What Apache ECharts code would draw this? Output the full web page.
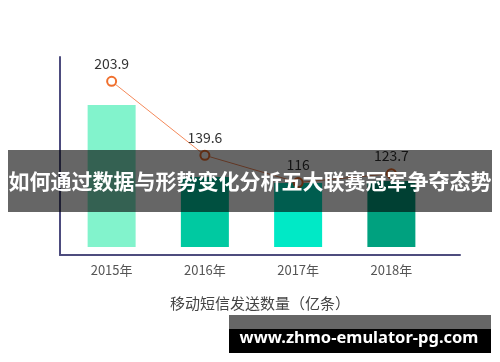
<!DOCTYPE html>
<html><head><meta charset="utf-8">
<script src="https://cdn.jsdelivr.net/npm/echarts@6/dist/echarts.min.js"></script>
<style>html,body{margin:0;padding:0;background:#fff}#c{width:500px;height:362px}</style>
</head><body><div id="c"></div>
<script>
const categories = ['2015年', '2016年', '2017年', '2018年'];
const barValues = [74.7, 36.8, 33.7, 34.7];
const lineValues = [203.9, 139.6, 116, 123.7];
const barColors = ['#82f3cc', '#00c9a1', '#00e9c6', '#00a17f'];
const axisTitle = '移动短信发送数量（亿条）';
const bannerText = '如何通过数据与形势变化分析五大联赛冠军争夺态势';
const watermarkText = 'www.zhmo-emulator-pg.com';

const chart = echarts.init(document.getElementById('c'), null, {renderer: 'canvas'});
const axisColor = '#4d4c7e';
chart.setOption({
  animation: false,
  grid: [
    {left: 65, width: 373, top: 57, height: 190},
    {left: 60, width: 400, top: 57, height: 198}
  ],
  xAxis: [
    {type: 'category', gridIndex: 0, data: categories,
     axisLine: {show: false}, axisTick: {show: false},
     axisLabel: {margin: 17, fontSize: 13, color: '#555', fontFamily: 'Noto Sans CJK SC'}},
    {type: 'value', gridIndex: 1, position: 'bottom',
     axisLine: {show: true, lineStyle: {color: axisColor, width: 2}},
     axisTick: {show: false}, axisLabel: {show: false}, splitLine: {show: false},
     name: axisTitle, nameLocation: 'middle', nameGap: 41,
     nameTextStyle: {fontSize: 15, color: '#444', fontFamily: 'Noto Sans CJK SC'}}
  ],
  yAxis: [
    {type: 'value', gridIndex: 0, min: 0, max: 100, show: false},
    {type: 'value', gridIndex: 0, min: 60, max: 225, show: false},
    {type: 'value', gridIndex: 1, position: 'left',
     axisLine: {show: true, onZero: false, lineStyle: {color: axisColor, width: 2}},
     axisTick: {show: false}, axisLabel: {show: false}, splitLine: {show: false}}
  ],
  series: [
    {type: 'bar', xAxisIndex: 0, yAxisIndex: 0, barWidth: 48,
     data: barValues.map((v, i) => ({value: v, itemStyle: {color: barColors[i]}}))},
    {type: 'line', xAxisIndex: 0, yAxisIndex: 1, data: lineValues,
     symbol: 'circle', symbolSize: 9,
     itemStyle: {color: '#ffffff', borderColor: '#f0702e', borderWidth: 2},
     lineStyle: {color: '#f4895a', width: 1},
     label: {show: true, position: 'top', distance: 5, fontSize: 14, color: '#333',
             fontFamily: 'Noto Sans CJK SC'}}
  ],
  graphic: [
    {type: 'rect', z: 100, shape: {x: 8, y: 150, width: 484, height: 62},
     style: {fill: 'rgba(0,0,0,0.6)'}},
    {type: 'text', z: 101, x: 250, y: 181,
     style: {text: bannerText, fill: '#fff', font: 'bold 21px "Noto Sans CJK SC"',
             textAlign: 'center', textVerticalAlign: 'middle'}},
    {type: 'rect', z: 100, shape: {x: 229, y: 315, width: 262, height: 14},
     style: {fill: '#666'}},
    {type: 'rect', z: 100, shape: {x: 229, y: 329, width: 262, height: 24},
     style: {fill: '#000'}},
    {type: 'text', z: 101, x: 359, y: 338,
     style: {text: watermarkText, fill: '#fff', font: 'bold 16.5px "Noto Sans"',
             textAlign: 'center', textVerticalAlign: 'middle'}}
  ]
});
</script></body></html>
